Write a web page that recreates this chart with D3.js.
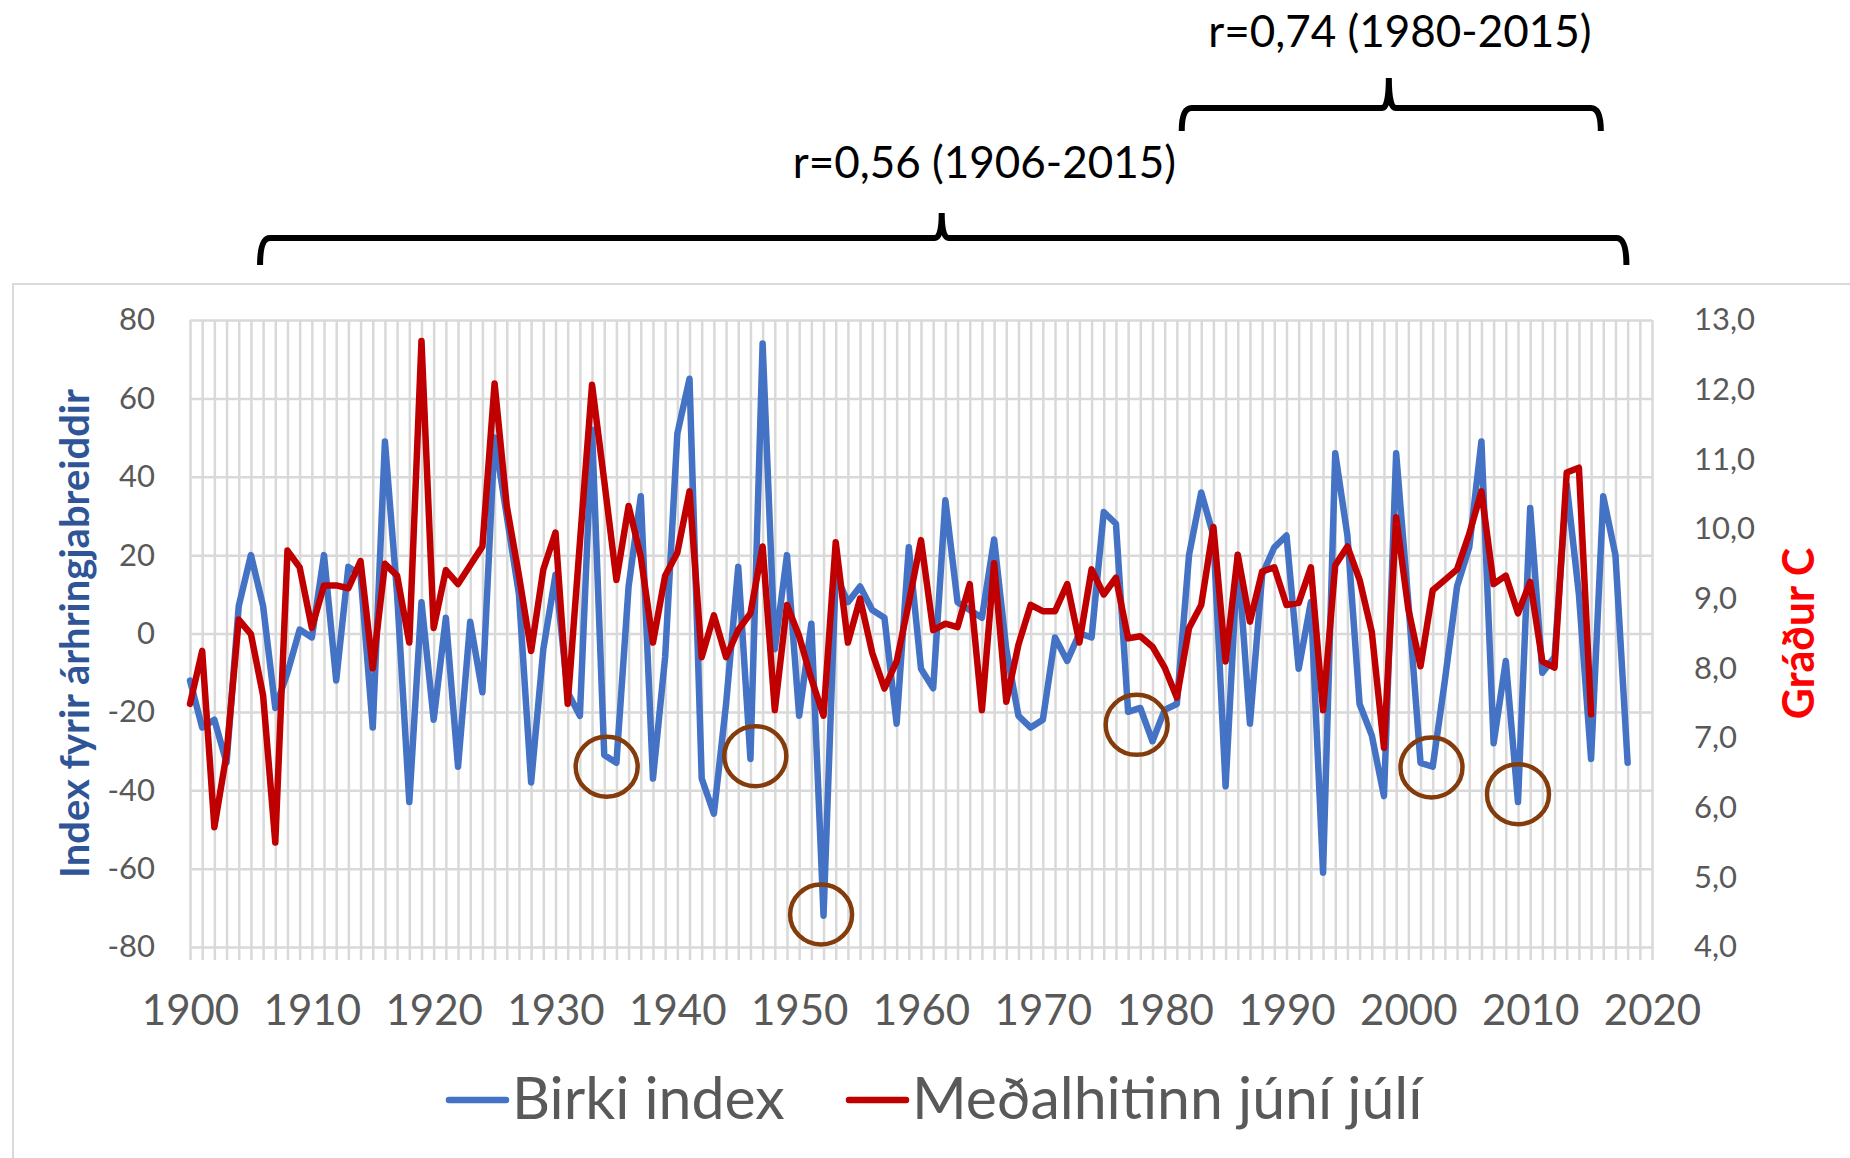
<!DOCTYPE html>
<html>
<head>
<meta charset="utf-8">
<script src="https://cdn.jsdelivr.net/npm/d3@7"></script>
<style>
  body { margin: 0; background: #fff; }
  text { font-family: Lato, "Open Sans", sans-serif; }
</style>
</head>
<body>
<div id="chart"></div>
<script>
// birki index (left axis), one value per year starting 1900
let birkiYears = d3.range(1900, 2019);
let birkiIndex = [
  -12, -24, -22, -33, 7, 20, 7, -19, -10, 1,
  -1, 20, -12, 17, 15, -24, 49, 10, -43, 8,
  -22, 4, -34, 3, -15, 50, 30, 10, -38, -4,
  15, -15, -21, 52, -31, -33, 12, 35, -37, -6,
  51, 65, -37, -46, -18, 17, -32, 74, -4, 20,
  -21, 2.5, -72, 15, 8, 12, 6, 4, -23, 22,
  -9, -14, 34, 8, 6, 4, 24, -4, -21, -24,
  -22, -1, -7, 0, -1, 31, 28, -20, -19, -27.5,
  -19.5, -18, 20, 36, 25, -39, 20, -23, 15, 22,
  25, -9, 8, -61, 46, 25, -18, -26, -41.5, 46,
  8, -33, -34, -12, 12, 22, 49, -28, -7, -43,
  32, -10, -6, 38, 10, -32, 35, 20, -33
];

// mean june-july temperature (right axis), starting 1900
let hitiYears = d3.range(1900, 2016);
let hitiTemp = [
  7.49, 8.25, 5.72, 6.77, 8.70, 8.49, 7.61, 5.50, 9.69, 9.45,
  8.58, 9.19, 9.19, 9.15, 9.54, 8.00, 9.50, 9.33, 8.37, 12.70,
  8.58, 9.41, 9.21, 9.48, 9.75, 12.09, 10.33, 9.33, 8.25, 9.42,
  9.95, 7.49, 9.80, 12.07, 10.69, 9.27, 10.33, 9.60, 8.37, 9.33,
  9.66, 10.54, 8.16, 8.76, 8.16, 8.55, 8.79, 9.75, 7.40, 8.91,
  8.46, 7.85, 7.32, 9.81, 8.37, 9.00, 8.22, 7.71, 8.10, 8.94,
  9.84, 8.55, 8.64, 8.59, 9.21, 7.40, 9.51, 7.52, 8.34, 8.91,
  8.82, 8.82, 9.21, 8.37, 9.42, 9.06, 9.30, 8.43, 8.46, 8.31,
  8.01, 7.58, 8.58, 8.91, 10.03, 8.10, 9.63, 8.67, 9.39, 9.45,
  8.91, 8.94, 9.45, 7.40, 9.48, 9.75, 9.27, 8.52, 6.86, 10.17,
  8.85, 8.03, 9.12, 9.27, 9.42, 9.93, 10.54, 9.21, 9.33, 8.79,
  9.24, 8.10, 8.01, 10.81, 10.88, 7.34
];

// axis ticks
let leftTicks = [-80, -60, -40, -20, 0, 20, 40, 60, 80];
let rightTicks = [4, 5, 6, 7, 8, 9, 10, 11, 12, 13];
let xTicks = [1900, 1910, 1920, 1930, 1940, 1950, 1960, 1970, 1980, 1990, 2000, 2010, 2020];

// circled low index years
let circledYears = [1934.2, 1946.4, 1951.8, 1977.7, 2001.9, 2009.0];
let circledValues = [-34, -31.3, -71.7, -23.3, -34.2, -41];

// correlation brackets over the chart
let bracketLabels = ['r=0,56 (1906-2015)', 'r=0,74 (1980-2015)'];
let bracketFrom = [1905.75, 1981.4];
let bracketTo = [2017.9, 2015.8];
let bracketTip = [1961.7, 1998.4];
let bracketLabelYear = [1965.2, 1999.3];

let legendLabels = ['Birki index', 'Meðalhitinn júní júlí'];

// svg size and plot box
let svg_width = 1850;
let svg_height = 1158;
let plot = { left: 190, right: 1652, top: 320, bottom: 947 };

let blue = '#4472C4';
let red = '#C00000';
let grid = '#D9D9D9';
let grey = '#595959';

let svg = d3.select('#chart')
  .append('svg')
  .attr('width', svg_width)
  .attr('height', svg_height);

svg.append('rect')
  .attr('width', svg_width)
  .attr('height', svg_height)
  .attr('fill', '#fff');

// chart area frame (cut off at the right and bottom)
svg.append('rect')
  .attr('x', 13)
  .attr('y', 284)
  .attr('width', 1900)
  .attr('height', 1000)
  .attr('fill', 'none')
  .attr('stroke', grid)
  .attr('stroke-width', 2);

// scales
let xScale = d3.scaleLinear().domain([1900, 2020]).range([plot.left, plot.right]);
let yLeft = d3.scaleLinear().domain([-80, 80]).range([plot.bottom, plot.top]);
let yRight = d3.scaleLinear().domain([4, 13]).range([plot.bottom, plot.top]);

// vertical gridlines, one per year, with short ticks below the axis
let gridYears = d3.range(1900, 2021);
svg.append('g')
  .attr('transform', `translate(0, ${plot.bottom})`)
  .call(d3.axisBottom(xScale).tickValues(gridYears).tickSize(-(plot.bottom - plot.top)).tickSizeOuter(0).tickFormat(''))
  .call(g => g.select('.domain').remove())
  .call(g => g.selectAll('line').attr('stroke', grid).attr('stroke-width', 2.5));

svg.append('g')
  .attr('transform', `translate(0, ${plot.bottom})`)
  .call(d3.axisBottom(xScale).tickValues(gridYears).tickSize(13).tickSizeOuter(0).tickFormat(''))
  .call(g => g.select('.domain').remove())
  .call(g => g.selectAll('line').attr('stroke', grid).attr('stroke-width', 2.5));

// horizontal gridlines
svg.append('g')
  .attr('transform', `translate(${plot.left}, 0)`)
  .call(d3.axisLeft(yLeft).tickValues(leftTicks).tickSize(-(plot.right - plot.left)).tickFormat(''))
  .call(g => g.select('.domain').remove())
  .call(g => g.selectAll('line').attr('stroke', grid).attr('stroke-width', 2.5));

// left axis labels (plain hyphen minus, like the original)
svg.append('g')
  .attr('transform', `translate(${plot.left}, 0)`)
  .call(d3.axisLeft(yLeft).tickValues(leftTicks).tickSize(0).tickPadding(35).tickFormat(d => String(d)))
  .call(g => g.select('.domain').remove())
  .call(g => g.selectAll('text')
    .attr('fill', grey)
    .style('font-size', '31px'));

// right axis labels
svg.append('g')
  .attr('transform', `translate(${plot.right}, 0)`)
  .call(d3.axisRight(yRight).tickValues(rightTicks).tickSize(0).tickPadding(42)
    .tickFormat(d => d.toFixed(1).replace('.', ',')))
  .call(g => g.select('.domain').remove())
  .call(g => g.selectAll('text')
    .attr('fill', grey)
    .style('font-size', '31px'));

// bottom axis labels
svg.append('g')
  .attr('transform', `translate(0, ${plot.bottom})`)
  .call(d3.axisBottom(xScale).tickValues(xTicks).tickSize(0).tickPadding(48).tickFormat(d3.format('d')))
  .call(g => g.select('.domain').remove())
  .call(g => g.selectAll('text')
    .attr('fill', grey)
    .style('font-size', '42px'));

// axis titles
svg.append('text')
  .attr('transform', `translate(74, ${(plot.top + plot.bottom) / 2}) rotate(-90)`)
  .attr('text-anchor', 'middle')
  .attr('dominant-baseline', 'central')
  .attr('fill', '#2F5597')
  .style('font-size', '40px')
  .style('font-weight', 'bold')
  .text('Index fyrir árhringjabreiddir');

svg.append('text')
  .attr('transform', `translate(1797, ${(plot.top + plot.bottom) / 2}) rotate(-90)`)
  .attr('text-anchor', 'middle')
  .attr('dominant-baseline', 'central')
  .attr('fill', '#FF0000')
  .style('font-size', '43px')
  .style('font-weight', 'bold')
  .text('Gráður C');

// lines
let birkiLine = d3.line()
  .x((d, i) => xScale(birkiYears[i]))
  .y(d => yLeft(d));

let hitiLine = d3.line()
  .x((d, i) => xScale(hitiYears[i]))
  .y(d => yRight(d));

svg.append('path')
  .datum(birkiIndex)
  .attr('d', birkiLine)
  .attr('fill', 'none')
  .attr('stroke', blue)
  .attr('stroke-width', 6.5)
  .attr('stroke-linejoin', 'round')
  .attr('stroke-linecap', 'round');

svg.append('path')
  .datum(hitiTemp)
  .attr('d', hitiLine)
  .attr('fill', 'none')
  .attr('stroke', red)
  .attr('stroke-width', 6.5)
  .attr('stroke-linejoin', 'round')
  .attr('stroke-linecap', 'round');

// brown circles around low years
svg.selectAll('.lowCircle')
  .data(circledYears)
  .enter()
  .append('ellipse')
  .classed('lowCircle', true)
  .attr('cx', d => xScale(d))
  .attr('cy', (d, i) => yLeft(circledValues[i]))
  .attr('rx', 31)
  .attr('ry', 30)
  .attr('fill', 'none')
  .attr('stroke', '#843C0C')
  .attr('stroke-width', 4.5);

// brackets: horizontal bar height, end bottom, tip top, label baseline
let bracketRows = [
  { bar: 238, end: 265, tip: 213, label: 178 },
  { bar: 108, end: 131, tip: 78, label: 47 }
];

function bracePath(x1, x2, xm, row) {
  let r = 10;
  let s = 7;
  return `M${x1},${row.end} Q${x1},${row.bar} ${x1 + r},${row.bar} ` +
    `L${xm - s},${row.bar} Q${xm},${row.bar} ${xm},${row.tip} ` +
    `Q${xm},${row.bar} ${xm + s},${row.bar} ` +
    `L${x2 - r},${row.bar} Q${x2},${row.bar} ${x2},${row.end}`;
}

bracketLabels.forEach(function(label, i) {
  let row = bracketRows[i];
  svg.append('path')
    .attr('d', bracePath(xScale(bracketFrom[i]), xScale(bracketTo[i]), xScale(bracketTip[i]), row))
    .attr('fill', 'none')
    .attr('stroke', '#000')
    .attr('stroke-width', 6);

  svg.append('text')
    .attr('x', xScale(bracketLabelYear[i]))
    .attr('y', row.label)
    .attr('text-anchor', 'middle')
    .attr('fill', '#000')
    .style('font-size', '44px')
    .text(label);
});

// legend
let legendX = [449, 849];
let legendColors = [blue, red];
legendLabels.forEach(function(label, i) {
  svg.append('line')
    .attr('x1', legendX[i])
    .attr('x2', legendX[i] + 57)
    .attr('y1', 1100)
    .attr('y2', 1100)
    .attr('stroke', legendColors[i])
    .attr('stroke-width', 6.5)
    .attr('stroke-linecap', 'round');

  svg.append('text')
    .attr('x', legendX[i] + 63)
    .attr('y', 1119)
    .attr('fill', grey)
    .style('font-size', '59px')
    .text(label);
});
</script>
</body>
</html>
